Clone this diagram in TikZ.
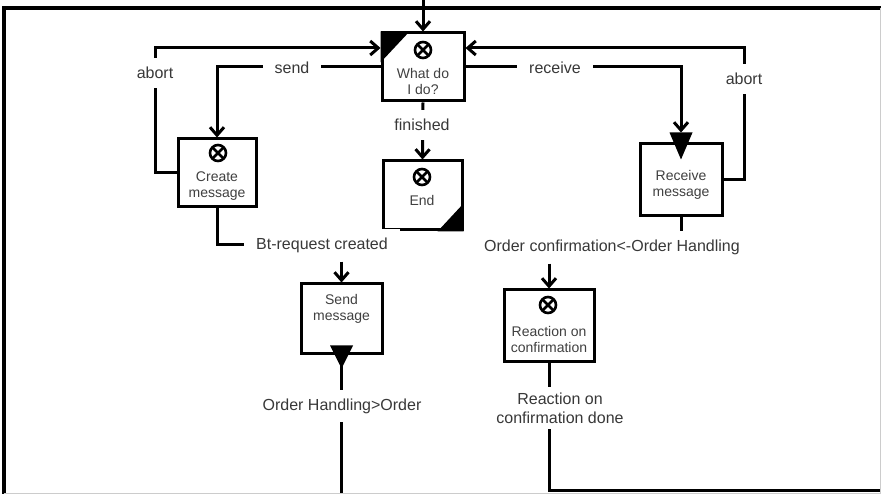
\documentclass[tikz,border=0pt]{standalone}
\usepackage{fontspec}
\setmainfont{Liberation Sans}
\usetikzlibrary{arrows.meta,calc,backgrounds}
\begin{document}
\begin{tikzpicture}[x=1pt,y=-1pt,
  conn/.style={line width=3pt},
  arr/.style={conn,-{Straight Barb[length=8pt,width=14pt]}},
  box/.style={draw,line width=3pt,fill=white,inner sep=0pt},
  xor/.style={circle,draw,line width=2.6pt,minimum size=16pt,inner sep=0pt,
    path picture={\draw[line width=2.6pt] (path picture bounding box.north west) -- (path picture bounding box.south east)
      (path picture bounding box.north east) -- (path picture bounding box.south west);}},
  btxt/.style={font=\fontsize{14}{16}\selectfont,align=center,text=black!75,inner sep=0pt},
  lbl/.style={font=\fontsize{16}{19}\selectfont,text=black!78,fill=white,inner xsep=12pt,inner ysep=9pt,align=center}
]
\clip (0,0) rectangle (881,494);
% frame
\draw[line width=4pt] (4,500) -- (4,8) -- (890,8);
\draw[black!20,line width=1pt] (880,8) -- (880,494);
\draw[black!20,line width=1pt] (4,493) -- (881,493);

% boxes
\node[box,minimum width=82pt,minimum height=68pt] (What) at (423,67) {};
\node[box,minimum width=79pt,minimum height=69pt] (End) at (422.5,195.5) {};
\node[box,minimum width=78pt,minimum height=68pt] (Create) at (217,173) {};
\node[box,minimum width=81pt,minimum height=70pt] (Send) at (341.5,319) {};
\node[box,minimum width=82pt,minimum height=72pt] (Receive) at (681,180) {};
\node[box,minimum width=90pt,minimum height=71pt] (Reaction) at (549,325.5) {};

% triangles
\fill (What.north west) -- ++(29,0) -- ++(-29,31) -- cycle;
\fill (End.south east) -- ++(-26,0) -- ++(26,-28) -- cycle;
\fill ($(Send.south)+(-11.5,-10)$) -- ++(23,0) -- ($(Send.south)+(0,13)$) -- cycle;
\fill ($(Receive.north)+(-11.5,-10)$) -- ++(23,0) -- ($(Receive.north)+(0,17)$) -- cycle;

% symbols
\node[xor] (WhatX) at (423,50) {};
\node[xor] (EndX) at (422,177) {};
\node[xor] (CreateX) at (218,153) {};
\node[xor] (ReactX) at (548,305) {};

% box texts
\node[btxt] (WhatT) at (423,81) {What do\\I do?};
\node[btxt] (EndT) at (422,200) {End};
\node[btxt] (CreateT) at (217,186.5) {Create\\message};
\node[btxt] (SendT) at (341.5,309) {Send\\message};
\node[btxt] (ReceiveT) at (681,185) {Receive\\message};
\node[btxt] (ReactT) at (549,339) {Reaction on\\confirmation};

% labels
\node[lbl] (abortL) at (155,73) {abort};
\node[lbl] (sendL) at (292,68) {send};
\node[lbl] (recvL) at (555,68) {receive};
\node[lbl] (abortR) at (744,79) {abort};
\node[lbl] (finL) at (422,125) {finished};
\node[lbl] (btL) at (322,245) {Bt-request created};
\node[lbl] (ohL) at (342,406) {Order Handling>Order};
\node[lbl] (ocL) at (612,247) {Order confirmation<-Order Handling};
\node[lbl,inner ysep=6pt] (rcdL) at (560,408) {Reaction on\\confirmation done};

% connectors
\coordinate (topIn) at (423,-5);
\coordinate (aLc) at (155,48);
\coordinate (aRc) at (744,48);
\coordinate (RT) at ($(Receive.north)+(0,-10)$);
\coordinate (botS) at (341.5,500);
\coordinate (rEnd) at (890,490);
\begin{scope}[on background layer]
\fill[white] (0,0) rectangle (881,494);
\draw[arr] (topIn) -- (What.north);
\draw[arr] (Create.west) -| (aLc) -- (aLc -| What.west);
\draw[arr] (What.west) -| (Create.north);
\draw[arr] (What.east) -| (RT);
\draw[arr] (Receive.east) -| (aRc) -- (aRc -| What.east);
\draw[arr] (What.south) -- (End.north);
\draw[conn] (Create.south) |- (btL.west);
\draw[arr] (btL.south -| Send.north) -- (Send.north);
\draw[conn] (Send.south) -- (botS);
\draw[conn] (Receive.south) -- (Receive.south |- ocL.center);
\draw[arr] (ocL.south -| Reaction.north) -- (Reaction.north);
\draw[conn] (Reaction.south) |- (rEnd);
\end{scope}
\end{tikzpicture}
\end{document}
